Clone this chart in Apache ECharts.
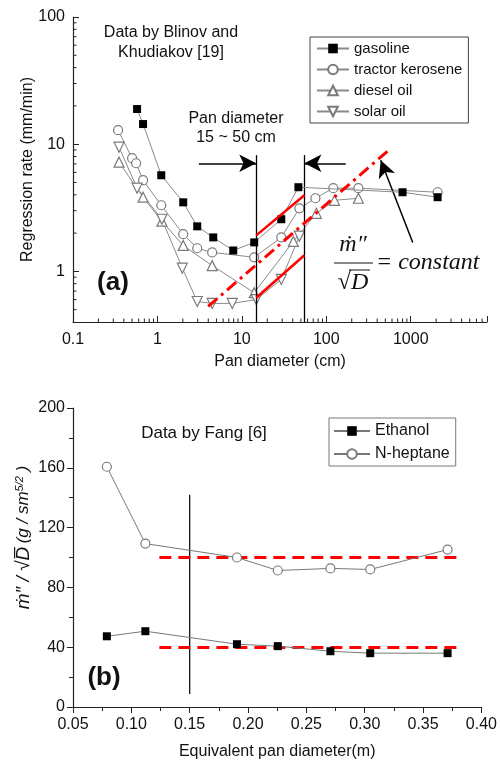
<!DOCTYPE html>
<html>
<head>
<meta charset="utf-8">
<script src="https://cdn.jsdelivr.net/npm/echarts@6/dist/echarts.min.js"></script>
<style>
  html, body { margin: 0; padding: 0; background: #fff; }
  #chart { width: 500px; height: 761px; }
</style>
</head>
<body>
<div id="chart"></div>
<script>
// panel (a): [pan diameter (cm), regression rate (mm/min)]
const gasoline = [[0.574, 18.9], [0.676, 14.4], [1.11, 5.7], [2.02, 3.49], [2.96, 2.26], [4.58, 1.85], [7.9, 1.46], [14.0, 1.69], [29.3, 2.57], [46.7, 4.59], [800, 4.19], [2080, 3.83]]
const kerosene = [[0.342, 12.9], [0.501, 7.76], [0.559, 7.08], [0.676, 5.21], [1.11, 3.31], [2.02, 1.96], [2.96, 1.52], [4.45, 1.41], [14.0, 1.29], [29.3, 1.85], [48, 3.13], [74.3, 3.76], [121, 4.51], [240, 4.51], [2080, 4.19]]
const diesel = [[0.351, 7.22], [0.676, 3.83], [1.13, 2.48], [2.02, 1.6], [4.45, 1.11], [14.0, 0.68], [40.7, 1.72], [76.3, 2.86], [125, 3.62], [240, 3.76]]
const solar = [[0.351, 9.47], [0.574, 4.51], [1.13, 2.57], [1.97, 1.06], [2.96, 0.58], [4.45, 0.56], [7.7, 0.56], [14.8, 0.6], [29.3, 0.865], [48, 1.89]]
const upperFit = [[14.8, 1.92], [55, 3.97]]
const lowerFit = [[14.8, 0.62], [55, 1.34]]
const constantLine = [[3.99, 0.53], [531, 8.81]]
const panLimits = [14.8, 55]

// panel (b)
const panDiameter = [0.079, 0.112, 0.1905, 0.2255, 0.2706, 0.3047, 0.371]
const ethanol = [47.3, 50.7, 42, 40.7, 37.3, 36, 36]
const heptane = [160.7, 109.3, 100, 91.3, 92.7, 92, 105.3]
const refLevels = [100, 40]
const refRange = [0.124, 0.383]
const cutDiameter = 0.15

const FONT = '"Liberation Sans", Arial, sans-serif'
const SERIF = '"Liberation Serif", "DejaVu Serif", serif'

const isDecade = v => Math.abs(Math.log10(v) - Math.round(Math.log10(v))) < 1e-6
const logMinor = (lo, hi) => {
  const out = []
  for (let e = Math.floor(Math.log10(lo)); e <= Math.ceil(Math.log10(hi)); e++) {
    for (let k = 2; k <= 9; k++) {
      const v = k * Math.pow(10, e)
      if (v > lo && v < hi) out.push(v)
    }
  }
  return out
}

const grayLine = { color: '#8a8a8a', width: 1 }
const hollow = { color: '#fff', borderColor: '#7a7a7a', borderWidth: 1.2 }

const myChart = echarts.init(document.getElementById('chart'))
myChart.setOption({
  animation: false,
  textStyle: { fontFamily: FONT, color: '#111' },
  grid: [
    { left: 73, top: 17, width: 414, height: 305 },
    { left: 73, top: 408, width: 411, height: 300 },
  ],
  xAxis: [
    {
      gridIndex: 0, type: 'log', logBase: 10, min: 0.1, max: 8000,
      name: 'Pan diameter (cm)', nameLocation: 'middle', nameGap: 32, nameMoveOverlap: false,
      nameTextStyle: { fontSize: 16, color: '#111' },
      axisLine: { lineStyle: { color: '#222', width: 1.2 } },
      axisTick: { inside: true, length: 6, lineStyle: { color: '#222' } },
      axisLabel: { fontSize: 16, color: '#111', margin: 10, formatter: v => (isDecade(v) ? String(v) : '') },
      splitLine: { show: false },
    },
    {
      gridIndex: 1, type: 'value', min: 0.05, max: 0.4, interval: 0.05,
      name: 'Equivalent pan diameter(m)', nameLocation: 'middle', nameGap: 37, nameMoveOverlap: false,
      nameTextStyle: { fontSize: 16, color: '#111' },
      axisLine: { lineStyle: { color: '#222', width: 1.2 } },
      axisTick: { length: 6, lineStyle: { color: '#222' } },
      minorTick: { show: true, splitNumber: 2, length: 4, lineStyle: { color: '#222' } },
      axisLabel: { fontSize: 16, color: '#111', margin: 10, formatter: v => v.toFixed(2) },
      splitLine: { show: false },
    },
  ],
  yAxis: [
    {
      gridIndex: 0, type: 'log', logBase: 10, min: 0.4, max: 100,
      name: 'Regression rate (mm/min)', nameLocation: 'middle', nameGap: 37, nameMoveOverlap: false,
      nameTextStyle: { fontSize: 16, color: '#111' },
      axisLine: { lineStyle: { color: '#222', width: 1.2 } },
      axisTick: { inside: true, length: 6, lineStyle: { color: '#222' } },
      axisLabel: { fontSize: 16, color: '#111', margin: 8, formatter: v => (isDecade(v) ? String(v) : '') },
      splitLine: { show: false },
    },
    {
      gridIndex: 1, type: 'value', min: 0, max: 200, interval: 40,
      name: '{m|ṁ″ / √D̅} {u|(g / sm}{s|5/2}{u| )}', nameLocation: 'middle', nameGap: 40, nameMoveOverlap: false,
      nameTextStyle: {
        color: '#111', padding: [0, 0, 0, 40],
        rich: {
          m: { fontSize: 19, fontStyle: 'italic', fontFamily: FONT },
          u: { fontSize: 17, fontStyle: 'italic', fontFamily: FONT },
          s: { fontSize: 11, fontStyle: 'italic', fontFamily: FONT, verticalAlign: 'top' },
        },
      },
      axisLine: { lineStyle: { color: '#222', width: 1.2 } },
      axisTick: { length: 6, lineStyle: { color: '#222' } },
      minorTick: { show: true, splitNumber: 2, length: 4, lineStyle: { color: '#222' } },
      axisLabel: { fontSize: 16, color: '#111', margin: 8 },
      splitLine: { show: false },
    },
  ],
  legend: [
    {
      data: ['gasoline', 'tractor kerosene', 'diesel oil', 'solar oil'],
      orient: 'vertical', left: 310, top: 37, width: 156,
      itemWidth: 32, itemHeight: 12, itemGap: 6, padding: [4, 6, 4, 6],
      borderColor: '#444', borderWidth: 1, borderRadius: 0,
      textStyle: { fontSize: 15, color: '#111' },
    },
    {
      data: ['Ethanol', 'N-heptane'],
      orient: 'vertical', left: 329, top: 418,
      itemWidth: 36, itemHeight: 12, itemGap: 7, padding: [5, 6, 4, 4],
      borderColor: '#777', borderWidth: 1, borderRadius: 0,
      textStyle: { fontSize: 16, color: '#111' },
    },
  ],
  graphic: [
    { type: 'text', x: 171, y: 43, style: { text: 'Data by Blinov and\nKhudiakov [19]', font: '16px ' + FONT, fill: '#111', align: 'center', verticalAlign: 'middle', lineHeight: 20 } },
    { type: 'text', x: 236, y: 128, style: { text: 'Pan diameter\n15 ~ 50 cm', font: '16px ' + FONT, fill: '#111', align: 'center', verticalAlign: 'middle', lineHeight: 19 } },
    { type: 'text', x: 113, y: 283, style: { text: '(a)', font: 'bold 26px ' + FONT, fill: '#111', align: 'center', verticalAlign: 'middle' } },
    { type: 'text', x: 353, y: 245, style: { text: 'ṁ″', font: 'italic 24px ' + SERIF, fill: '#111', align: 'center', verticalAlign: 'middle' } },
    { type: 'line', shape: { x1: 334, y1: 263, x2: 373, y2: 263 }, style: { stroke: '#111', lineWidth: 1.2 } },
    { type: 'text', x: 353, y: 283, style: { text: '√D', font: 'italic 24px ' + SERIF, fill: '#111', align: 'center', verticalAlign: 'middle' } },
    { type: 'line', shape: { x1: 349, y1: 270, x2: 370, y2: 270 }, style: { stroke: '#111', lineWidth: 1 } },
    { type: 'text', x: 376, y: 263, style: { text: '= constant', font: 'italic 24px ' + SERIF, fill: '#111', align: 'left', verticalAlign: 'middle' } },
    { type: 'text', x: 204, y: 433, style: { text: 'Data by Fang [6]', font: '17px ' + FONT, fill: '#111', align: 'center', verticalAlign: 'middle' } },
    { type: 'text', x: 104, y: 678, style: { text: '(b)', font: 'bold 26px ' + FONT, fill: '#111', align: 'center', verticalAlign: 'middle' } },
  ],
  series: [
    {
      name: 'gasoline', type: 'line', xAxisIndex: 0, yAxisIndex: 0, data: gasoline,
      symbol: 'rect', symbolSize: 8, itemStyle: { color: '#000' }, lineStyle: grayLine, z: 5,
    },
    {
      name: 'tractor kerosene', type: 'line', xAxisIndex: 0, yAxisIndex: 0, data: kerosene,
      symbol: 'circle', symbolSize: 9, itemStyle: hollow, lineStyle: grayLine, z: 4,
    },
    {
      name: 'diesel oil', type: 'line', xAxisIndex: 0, yAxisIndex: 0, data: diesel,
      symbol: 'triangle', symbolSize: 10, itemStyle: hollow, lineStyle: grayLine, z: 4,
    },
    {
      name: 'solar oil', type: 'line', xAxisIndex: 0, yAxisIndex: 0, data: solar,
      symbol: 'triangle', symbolRotate: 180, symbolSize: 10, itemStyle: hollow, lineStyle: grayLine, z: 4,
    },
    {
      type: 'line', xAxisIndex: 0, yAxisIndex: 0, data: upperFit, symbol: 'none', silent: true,
      lineStyle: { color: '#f00', width: 2.5 }, z: 6,
    },
    {
      type: 'line', xAxisIndex: 0, yAxisIndex: 0, data: lowerFit, symbol: 'none', silent: true,
      lineStyle: { color: '#f00', width: 2.5 }, z: 6,
    },
    {
      type: 'line', xAxisIndex: 0, yAxisIndex: 0, data: constantLine, symbol: 'none', silent: true,
      lineStyle: { color: '#f00', width: 3, type: [12, 5, 3, 5] }, z: 6,
    },
    {
      type: 'line', xAxisIndex: 0, yAxisIndex: 0, data: [], silent: true,
      markLine: {
        silent: true, symbol: ['none', 'none'], label: { show: false },
        lineStyle: { color: '#000', width: 1.3, type: 'solid' },
        data: panLimits.map(x => [{ coord: [x, 0.4] }, { coord: [x, 8.2] }]),
      },
    },
    {
      type: 'line', xAxisIndex: 0, yAxisIndex: 0, data: [], silent: true,
      markLine: {
        silent: true, symbol: ['none', 'arrow'], symbolSize: [13, 17], label: { show: false },
        lineStyle: { color: '#000', width: 1.5, type: 'solid' },
        data: [
          [{ coord: [3.1, 7.08] }, { coord: [panLimits[0], 7.08] }],
          [{ coord: [170, 7.08] }, { coord: [panLimits[1], 7.08] }],
          [{ coord: [1056, 1.69] }, { coord: [441, 7.48] }],
        ],
      },
    },
    {
      // minor ticks of the log axes
      type: 'custom', xAxisIndex: 0, yAxisIndex: 0, silent: true, clip: false,
      data: logMinor(0.1, 8000).map(v => [v, 0.4, 0]).concat(logMinor(0.4, 100).map(v => [0.1, v, 1])),
      renderItem: (params, api) => {
        const p = api.coord([api.value(0), api.value(1)])
        const horiz = api.value(2) === 1
        return {
          type: 'line',
          shape: horiz ? { x1: p[0], y1: p[1], x2: p[0] + 3.5, y2: p[1] } : { x1: p[0], y1: p[1], x2: p[0], y2: p[1] - 3.5 },
          style: { stroke: '#222', lineWidth: 1 },
        }
      },
    },
    {
      name: 'Ethanol', type: 'line', xAxisIndex: 1, yAxisIndex: 1,
      data: panDiameter.map((d, i) => [d, ethanol[i]]),
      symbol: 'rect', symbolSize: 8, itemStyle: { color: '#000' }, lineStyle: { color: '#777', width: 1 }, z: 5,
    },
    {
      name: 'N-heptane', type: 'line', xAxisIndex: 1, yAxisIndex: 1,
      data: panDiameter.map((d, i) => [d, heptane[i]]),
      symbol: 'circle', symbolSize: 9, itemStyle: hollow, lineStyle: { color: '#777', width: 1 }, z: 5,
    },
    {
      type: 'line', xAxisIndex: 1, yAxisIndex: 1, data: [], silent: true,
      markLine: {
        silent: true, symbol: ['none', 'none'], label: { show: false },
        lineStyle: { color: '#f00', width: 3, type: [12, 7] },
        data: refLevels.map(y => [{ coord: [refRange[0], y] }, { coord: [refRange[1], y] }]),
      },
      z: 6,
    },
    {
      type: 'line', xAxisIndex: 1, yAxisIndex: 1, data: [[cutDiameter, 8.7], [cutDiameter, 142]],
      symbol: 'none', silent: true, lineStyle: { color: '#000', width: 1.2 },
    },
  ],
})
</script>
</body>
</html>
